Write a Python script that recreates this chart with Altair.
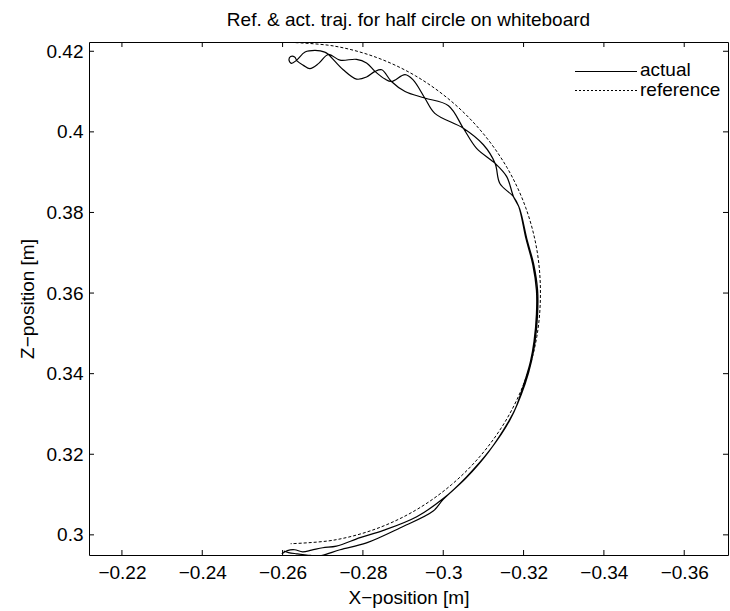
import altair as alt
import pandas as pd

TITLE = "Ref. & act. traj. for half circle on whiteboard"
X_TITLE = "X\u2212position [m]"
Y_TITLE = "Z\u2212position [m]"

# reference trajectory (dashed), top -> around -> bottom
ref_x = [-0.2620, -0.2728, -0.2833, -0.2931, -0.3020, -0.3096, -0.3159, -0.3205, -0.3233, -0.3242,
         -0.3233, -0.3205, -0.3159, -0.3096, -0.3020, -0.2931, -0.2833, -0.2728, -0.2620]
ref_y = [0.4222, 0.4213, 0.4185, 0.4139, 0.4076, 0.4000, 0.3911, 0.3813, 0.3708, 0.3600,
         0.3492, 0.3387, 0.3289, 0.3200, 0.3124, 0.3061, 0.3015, 0.2987, 0.2978]

# actual trajectory (solid): up the arc, loop at top, back down
act_x = [-0.2598, -0.2612, -0.2630, -0.2650, -0.2672, -0.2700, -0.2734, -0.2793, -0.2851, -0.2934,
         -0.3000, -0.3058, -0.3116, -0.3166, -0.3204, -0.3220, -0.3229, -0.3235, -0.3235, -0.3225,
         -0.3209, -0.3190, -0.3175, -0.3158, -0.3129, -0.3083, -0.3050, -0.3013, -0.2954, -0.2905,
         -0.2871, -0.2847, -0.2830, -0.2809, -0.2784, -0.2751, -0.2714, -0.2705, -0.2681, -0.2656,
         -0.2635, -0.2622, -0.2616, -0.2620, -0.2630, -0.2636,
         -0.2652, -0.2668, -0.2690, -0.2714, -0.2743, -0.2784, -0.2809, -0.2830, -0.2855, -0.2871,
         -0.2905, -0.2925, -0.2954, -0.2979, -0.3050, -0.3100, -0.3129, -0.3141, -0.3175, -0.3188,
         -0.3206, -0.3223, -0.3232, -0.3232, -0.3226, -0.3217, -0.3200, -0.3180, -0.3163, -0.3113,
         -0.3056, -0.3000, -0.2975, -0.2892, -0.2809, -0.2743, -0.2693, -0.2660, -0.2635, -0.2615,
         -0.2603]
act_y = [0.2953, 0.2961, 0.2963, 0.2958, 0.2962, 0.2968, 0.2972, 0.2993, 0.3011, 0.3045,
         0.3090, 0.3144, 0.3210, 0.3285, 0.3375, 0.3432, 0.3482, 0.3548, 0.3607, 0.3673,
         0.3731, 0.3810, 0.3839, 0.3889, 0.3922, 0.3959, 0.4009, 0.4065, 0.4084, 0.4100,
         0.4125, 0.4154, 0.4150, 0.4136, 0.4131, 0.4154, 0.4192, 0.4198, 0.4202, 0.4198,
         0.4178, 0.4170, 0.4178, 0.4187, 0.4186, 0.4176,
         0.4165, 0.4157, 0.4170, 0.4192, 0.4178, 0.4180, 0.4171, 0.4150, 0.4131, 0.4125,
         0.4142, 0.4129, 0.4084, 0.4046, 0.4009, 0.3968, 0.3922, 0.3872, 0.3839, 0.3815,
         0.3735, 0.3670, 0.3607, 0.3548, 0.3480, 0.3430, 0.3372, 0.3314, 0.3282, 0.3206,
         0.3140, 0.3088, 0.3059, 0.3017, 0.2980, 0.2963, 0.2948, 0.2950, 0.2953, 0.2956,
         0.2960]

x_ticks = [-0.22, -0.24, -0.26, -0.28, -0.30, -0.32, -0.34, -0.36]
y_ticks = [0.30, 0.32, 0.34, 0.36, 0.38, 0.40, 0.42]
legend_labels = ["actual", "reference"]

W, H = 639, 513
FONT = "Liberation Sans"
FS = 19

ref_df = pd.DataFrame({"x": ref_x, "y": ref_y, "o": range(len(ref_x))})
act_df = pd.DataFrame({"x": act_x, "y": act_y, "o": range(len(act_x))})
xt_df = pd.DataFrame({"x": x_ticks})
yt_df = pd.DataFrame({"y": y_ticks})

xs = alt.Scale(domain=[-0.3709, -0.2118], reverse=True, nice=False, zero=False)
ys = alt.Scale(domain=[0.295, 0.4223], nice=False, zero=False)
lab = "replace(format(datum.value, '~g'), '-', '\u2212')"
common = dict(labelExpr=lab, ticks=False, tickSize=0, domain=False, grid=False,
              labelOverlap=False, labelFlush=False, labelFont=FONT, titleFont=FONT,
              labelFontSize=FS, titleFontSize=FS, labelColor="black", titleColor="black",
              titleFontWeight="normal")
xaxis = alt.Axis(values=x_ticks, title=X_TITLE, labelPadding=8, titlePadding=6, **common)
yaxis = alt.Axis(values=y_ticks, title=Y_TITLE, labelPadding=6, titlePadding=9, **common)
X = alt.X("x:Q", scale=xs, axis=xaxis)
Y = alt.Y("y:Q", scale=ys, axis=yaxis)

ref_line = alt.Chart(ref_df).mark_line(
    color="black", strokeWidth=1, strokeDash=[3, 2], interpolate="catmull-rom", clip=True
).encode(x=X, y=Y, order="o:Q")

act_line = alt.Chart(act_df).mark_line(
    color="black", strokeWidth=1.2, interpolate="catmull-rom", clip=True
).encode(x=X, y=Y, order="o:Q")

tick_b = alt.Chart(xt_df).mark_rule(color="black", strokeWidth=1).encode(
    x=X, y=alt.value(H), y2=alt.value(H - 5))
tick_t = alt.Chart(xt_df).mark_rule(color="black", strokeWidth=1).encode(
    x=X, y=alt.value(0), y2=alt.value(5))
tick_l = alt.Chart(yt_df).mark_rule(color="black", strokeWidth=1).encode(
    y=Y, x=alt.value(0), x2=alt.value(5))
tick_r = alt.Chart(yt_df).mark_rule(color="black", strokeWidth=1).encode(
    y=Y, x=alt.value(W), x2=alt.value(W - 5))

leg_solid = alt.Chart(pd.DataFrame({"l": [legend_labels[0]]})).mark_rule(
    color="black", strokeWidth=1.2).encode(x=alt.value(486), x2=alt.value(548), y=alt.value(29.5))
leg_dash = alt.Chart(pd.DataFrame({"l": [legend_labels[1]]})).mark_rule(
    color="black", strokeWidth=1, strokeDash=[2, 2]).encode(x=alt.value(486), x2=alt.value(548), y=alt.value(48.5))
leg_t1 = alt.Chart(pd.DataFrame({"l": [legend_labels[0]]})).mark_text(
    align="left", baseline="middle", font=FONT, fontSize=FS, color="black").encode(
    x=alt.value(551), y=alt.value(28), text="l:N")
leg_t2 = alt.Chart(pd.DataFrame({"l": [legend_labels[1]]})).mark_text(
    align="left", baseline="middle", font=FONT, fontSize=FS, color="black").encode(
    x=alt.value(551), y=alt.value(48), text="l:N")

chart = alt.layer(
    ref_line, act_line, tick_b, tick_t, tick_l, tick_r, leg_solid, leg_dash, leg_t1, leg_t2
).properties(
    width=W, height=H,
    title=alt.TitleParams(TITLE, font=FONT, fontSize=FS, fontWeight="normal", color="black",
                          anchor="middle", baseline="alphabetic", offset=-3),
    autosize=alt.AutoSizeParams(type="none"),
    padding={"left": 89, "top": 42, "right": 2, "bottom": 56},
    background="white",
).configure_view(stroke="black", strokeWidth=1)

chart.save("out.html", embed_options={"renderer": "svg", "actions": False})
